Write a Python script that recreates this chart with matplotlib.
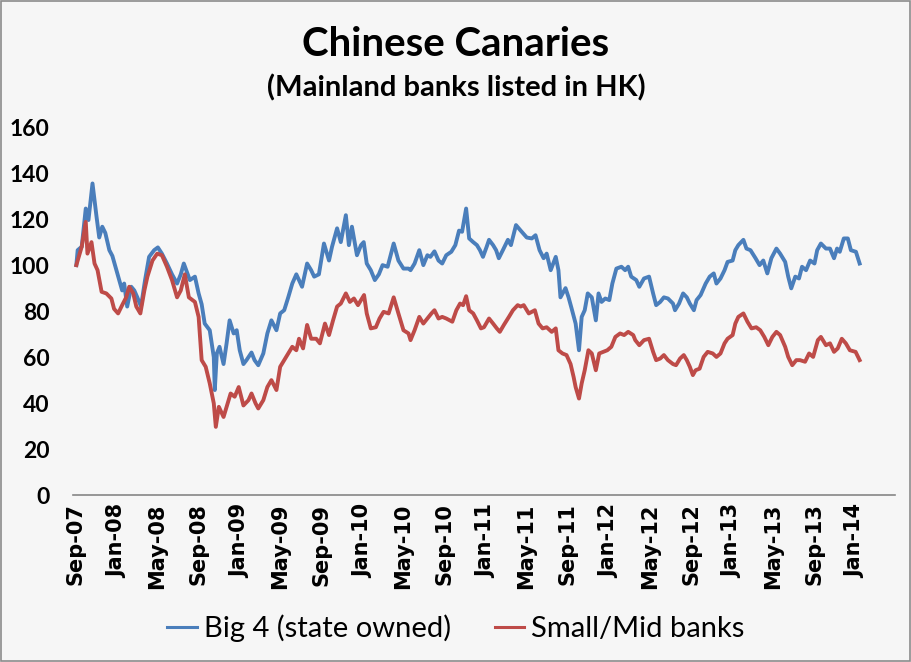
import matplotlib
matplotlib.use('Agg')
import matplotlib.pyplot as plt
import matplotlib.dates as mdates
import pandas as pd
from matplotlib.patches import Rectangle

# Big 4 (state owned) index
blue_dates = ['2007-09-03', '2007-09-07', '2007-09-19', '2007-10-01', '2007-10-09', '2007-10-21', '2007-11-02',
              '2007-11-10', '2007-11-19', '2007-11-28', '2007-12-10', '2007-12-19', '2007-12-31', '2008-01-08',
              '2008-01-17', '2008-01-23', '2008-02-01', '2008-02-13', '2008-02-22', '2008-03-02', '2008-03-13',
              '2008-03-25', '2008-04-06', '2008-04-21', '2008-05-02', '2008-05-14', '2008-05-29', '2008-06-13',
              '2008-06-28', '2008-07-09', '2008-07-18', '2008-08-05', '2008-08-20', '2008-08-31', '2008-09-09',
              '2008-09-18', '2008-10-03', '2008-10-15', '2008-10-18', '2008-10-24', '2008-11-01', '2008-11-13',
              '2008-11-22', '2008-12-01', '2008-12-13', '2008-12-22', '2008-12-31', '2009-01-11', '2009-01-20',
              '2009-02-04', '2009-02-13', '2009-02-24', '2009-03-11', '2009-03-23', '2009-04-04', '2009-04-19',
              '2009-04-30', '2009-05-12', '2009-05-24', '2009-06-05', '2009-06-17', '2009-07-04', '2009-07-19',
              '2009-07-31', '2009-08-09', '2009-08-23', '2009-09-07', '2009-09-22', '2009-10-01', '2009-10-16',
              '2009-10-27', '2009-11-11', '2009-11-20', '2009-11-29', '2009-12-14', '2009-12-26', '2010-01-03',
              '2010-01-12', '2010-01-24', '2010-02-05', '2010-02-17', '2010-02-28', '2010-03-15', '2010-04-02',
              '2010-04-16', '2010-05-01', '2010-05-16', '2010-05-22', '2010-06-03', '2010-06-17', '2010-06-29',
              '2010-07-11', '2010-07-20', '2010-08-01', '2010-08-13', '2010-08-24', '2010-09-05', '2010-09-20',
              '2010-10-02', '2010-10-13', '2010-10-22', '2010-11-03', '2010-11-12', '2010-11-24', '2010-12-05',
              '2010-12-14', '2010-12-23', '2011-01-03', '2011-01-10', '2011-01-22', '2011-01-31', '2011-02-08',
              '2011-02-20', '2011-03-07', '2011-03-16', '2011-03-31', '2011-04-14', '2011-05-02', '2011-05-17',
              '2011-05-28', '2011-06-09', '2011-06-21', '2011-06-30', '2011-07-12', '2011-07-27', '2011-08-04',
              '2011-08-10', '2011-08-25', '2011-09-03', '2011-09-12', '2011-09-24', '2011-10-04', '2011-10-12',
              '2011-10-21', '2011-10-30', '2011-11-11', '2011-11-23', '2011-12-01', '2011-12-10', '2011-12-21',
              '2012-01-02', '2012-01-11', '2012-01-23', '2012-02-07', '2012-02-18', '2012-02-27', '2012-03-07',
              '2012-03-22', '2012-03-31', '2012-04-14', '2012-04-29', '2012-05-11', '2012-05-20', '2012-06-01',
              '2012-06-12', '2012-06-24', '2012-07-09', '2012-07-15', '2012-07-27', '2012-08-08', '2012-08-19',
              '2012-08-28', '2012-09-09', '2012-09-17', '2012-09-29', '2012-10-14', '2012-10-26', '2012-11-07',
              '2012-11-15', '2012-11-27', '2012-12-09', '2012-12-18', '2013-01-02', '2013-01-10', '2013-01-19',
              '2013-02-03', '2013-02-12', '2013-02-24', '2013-03-11', '2013-03-23', '2013-04-03', '2013-04-15',
              '2013-04-27', '2013-05-12', '2013-05-23', '2013-06-07', '2013-06-16', '2013-06-25', '2013-07-07',
              '2013-07-18', '2013-07-27', '2013-08-08', '2013-08-20', '2013-09-02', '2013-09-10', '2013-09-21',
              '2013-10-06', '2013-10-18', '2013-10-30', '2013-11-08', '2013-11-16', '2013-11-28', '2013-12-10',
              '2013-12-19', '2014-01-03', '2014-01-14']
blue_vals = [100, 106.5, 108, 124.6, 119.6, 135.5, 121,
             112, 116.7, 114, 106.5, 104, 97.8, 93.5,
             89, 92, 82, 90.6, 89, 86, 82,
             93.5, 103.6, 106.5, 107.7, 105, 100.7, 96,
             92, 96, 100.7, 93.5, 95, 87.7, 83,
             74.6, 71.7, 60, 45.7, 61.6, 64.5, 57,
             66, 76, 70.3, 71.7, 63, 57, 58.7,
             62, 58.7, 56.5, 61.6, 70.3, 76, 71.7,
             79, 80.4, 86, 92, 96, 90.6, 100.7,
             97.8, 95, 96, 109.4, 102, 108, 116,
             110, 121.7, 108.7, 116.7, 104.3, 108.7, 110,
             100.7, 97.8, 93.5, 96, 100, 99.3, 109.4,
             102, 98.5, 98.5, 97.8, 100.7, 106.5, 100,
             104.3, 103.6, 106, 102, 100.7, 104.3, 105.8,
             108.7, 115, 114.5, 124.6, 111.6, 110, 108.7,
             106.5, 103.6, 108, 111, 108.7, 106.5, 103,
             106.5, 111, 108.7, 117.4, 115, 112, 111.6,
             113, 106.5, 103, 105, 97.8, 103.6, 97.8,
             86, 90, 86, 81.2, 74.6, 63, 77.5,
             80.4, 87.7, 86, 76, 87.7, 84, 85.5,
             84.8, 92, 98.5, 99.3, 97.8, 99.3, 95,
             93.5, 90.6, 94.2, 95, 87.7, 82.6, 84,
             86, 85.5, 83.3, 80.4, 83.3, 87.7, 86,
             83.3, 80.4, 84.8, 87, 92, 95, 96.4,
             92, 94.2, 97.8, 101.4, 102, 106.5, 108.7,
             111, 107.2, 106.5, 103, 100, 102, 96.4,
             103, 107.2, 105, 101.4, 95, 89.9, 95,
             94.2, 99.3, 97.8, 102, 100.7, 106.5, 109.4,
             107.2, 107.2, 103, 107.2, 105.8, 111.6, 111.6,
             106.5, 105.8, 100.7]

# Small/Mid banks index
red_dates = ['2007-09-03', '2007-09-07', '2007-09-19', '2007-10-01', '2007-10-06', '2007-10-18', '2007-10-27',
             '2007-11-05', '2007-11-17', '2007-12-01', '2007-12-16', '2007-12-24', '2008-01-05', '2008-01-17',
             '2008-01-29', '2008-02-07', '2008-02-19', '2008-02-28', '2008-03-11', '2008-03-23', '2008-04-01',
             '2008-04-16', '2008-04-30', '2008-05-14', '2008-05-29', '2008-06-13', '2008-06-28', '2008-07-09',
             '2008-07-21', '2008-08-02', '2008-08-20', '2008-08-31', '2008-09-09', '2008-09-21', '2008-10-03',
             '2008-10-15', '2008-10-21', '2008-10-30', '2008-11-13', '2008-11-22', '2008-12-04', '2008-12-16',
             '2008-12-28', '2009-01-11', '2009-01-26', '2009-02-04', '2009-02-16', '2009-02-24', '2009-03-11',
             '2009-03-23', '2009-04-04', '2009-04-19', '2009-04-30', '2009-05-12', '2009-05-24', '2009-06-05',
             '2009-06-17', '2009-06-25', '2009-07-07', '2009-07-19', '2009-07-31', '2009-08-15', '2009-08-26',
             '2009-09-10', '2009-09-22', '2009-10-04', '2009-10-16', '2009-10-27', '2009-11-11', '2009-11-23',
             '2009-12-05', '2009-12-17', '2010-01-04', '2010-01-12', '2010-01-24', '2010-02-08', '2010-02-19',
             '2010-03-03', '2010-03-18', '2010-04-02', '2010-04-16', '2010-05-01', '2010-05-16', '2010-05-22',
             '2010-06-03', '2010-06-17', '2010-06-29', '2010-07-11', '2010-07-23', '2010-08-01', '2010-08-13',
             '2010-08-24', '2010-09-05', '2010-09-23', '2010-10-05', '2010-10-16', '2010-10-25', '2010-11-03',
             '2010-11-12', '2010-11-24', '2010-12-05', '2010-12-17', '2010-12-26', '2011-01-10', '2011-01-22',
             '2011-02-02', '2011-02-11', '2011-02-23', '2011-03-10', '2011-03-22', '2011-04-05', '2011-04-14',
             '2011-04-23', '2011-05-08', '2011-05-26', '2011-06-06', '2011-06-18', '2011-06-30', '2011-07-15',
             '2011-07-27', '2011-08-04', '2011-08-16', '2011-08-28', '2011-09-09', '2011-09-18', '2011-09-24',
             '2011-10-04', '2011-10-12', '2011-10-21', '2011-11-01', '2011-11-11', '2011-11-23', '2011-12-03',
             '2011-12-15', '2011-12-27', '2012-01-08', '2012-01-20', '2012-02-03', '2012-02-15', '2012-02-27',
             '2012-03-13', '2012-03-19', '2012-03-31', '2012-04-14', '2012-04-29', '2012-05-11', '2012-05-20',
             '2012-06-01', '2012-06-12', '2012-06-24', '2012-07-09', '2012-07-18', '2012-07-30', '2012-08-10',
             '2012-08-19', '2012-08-28', '2012-09-06', '2012-09-14', '2012-09-26', '2012-10-08', '2012-10-20',
             '2012-11-04', '2012-11-15', '2012-11-27', '2012-12-09', '2012-12-18', '2013-01-02', '2013-01-10',
             '2013-01-19', '2013-02-03', '2013-02-15', '2013-02-27', '2013-03-13', '2013-03-25', '2013-04-06',
             '2013-04-18', '2013-04-30', '2013-05-12', '2013-05-23', '2013-06-07', '2013-06-16', '2013-06-28',
             '2013-07-10', '2013-07-21', '2013-08-05', '2013-08-17', '2013-08-29', '2013-09-12', '2013-09-21',
             '2013-10-06', '2013-10-18', '2013-10-30', '2013-11-10', '2013-11-22', '2013-12-04', '2013-12-16',
             '2014-01-02', '2014-01-14']
red_vals = [100, 102, 108, 118.8, 105, 110, 100.7,
            97.8, 88.4, 87.7, 85.5, 81, 79, 82.6,
            86, 90.6, 87.7, 82, 79, 89, 95,
            102, 105, 104.3, 99.3, 93.5, 86, 89,
            96, 86, 84, 77.5, 58.7, 55.8, 48.6,
            39.9, 29.7, 38.4, 34, 38.4, 44.2, 42.8,
            47, 39, 41.3, 44.2, 39.9, 37.7, 41.3,
            47, 50, 45.7, 55.8, 58.7, 61.6, 64.5,
            63, 68, 63.8, 74, 68, 68, 66,
            74.6, 69.6, 76, 82, 83.3, 87.7, 84,
            85.5, 82.6, 87, 79, 72.5, 73, 76.8,
            79.7, 79, 86, 79, 71.7, 70.3, 67.4,
            71.7, 77.5, 74.6, 76.8, 79, 80.4, 76.8,
            77.5, 76.8, 75.4, 80.4, 83.3, 82.6, 86.5,
            80.4, 79, 76, 72.5, 73, 76.8, 74.6,
            72.5, 71, 74, 77.5, 80.4, 82.6, 82,
            82.6, 79, 80.4, 74.6, 72.5, 73, 71,
            72.5, 63, 61.6, 60.9, 57, 51.4, 47,
            42, 48.6, 54.3, 63, 61.6, 54.3, 61.6,
            62.3, 63, 64.5, 68.8, 70.3, 69.6, 71,
            69.6, 67.4, 65.2, 67.4, 68, 62.3, 58.7,
            59.4, 60.9, 58.7, 57, 56.5, 59.4, 60.9,
            58.7, 55.8, 52.2, 54.3, 55, 60.1, 62.3,
            61.6, 60.1, 61.6, 66, 68, 69.6, 74.6,
            77.5, 79, 75.4, 72.5, 73, 71.7, 68.8,
            65.2, 68.8, 71, 69.6, 64.5, 60.1, 56.5,
            58.7, 58.7, 58, 61.6, 60.1, 67.4, 68.8,
            65.2, 66, 62.3, 63.8, 68, 66, 63,
            62.3, 58.7]

title = 'Chinese Canaries'
subtitle = '(Mainland banks listed in HK)'
labels = ['Big 4 (state owned)', 'Small/Mid banks']

bg = '#f6f6f6'
fig = plt.figure(figsize=(9.12, 6.62), dpi=100, facecolor=bg)
ax = fig.add_axes([0.080, 0.252, 0.901, 0.556])
ax.set_facecolor(bg)

ax.plot(pd.to_datetime(blue_dates), blue_vals, color='#4a7ebb', lw=2.8, label=labels[0])
ax.plot(pd.to_datetime(red_dates), red_vals, color='#be4b48', lw=2.8, label=labels[1])

ax.set_ylim(0, 160)
ax.set_yticks(range(0, 161, 20))
ax.set_xlim(pd.Timestamp('2007-08-24'), pd.Timestamp('2014-04-28'))
ax.xaxis.set_major_locator(mdates.MonthLocator(bymonth=[1, 5, 9]))
ax.xaxis.set_major_formatter(mdates.DateFormatter('%b-%y'))

for s in ['top', 'right', 'left']:
    ax.spines[s].set_visible(False)
ax.spines['bottom'].set_color('#868686')
ax.spines['bottom'].set_linewidth(1.2)

ax.tick_params(axis='y', length=0, pad=17)
ax.tick_params(axis='x', length=0, pad=6)
for t in ax.get_yticklabels():
    t.set_fontfamily('Lato')
    t.set_fontweight('bold')
    t.set_fontsize(16.5)
for t in ax.get_xticklabels():
    t.set_fontfamily('DejaVu Sans')
    t.set_fontweight('bold')
    t.set_fontsize(15)
    t.set_rotation(90)

fig.text(0.5, 1 - 45 / 662, title, ha='center', va='center',
         fontsize=29, fontweight='bold', family='Lato')
fig.text(0.5, 1 - 88 / 662, subtitle, ha='center', va='center',
         fontsize=21, fontweight='bold', family='Lato')

leg = fig.legend(loc='center', bbox_to_anchor=(0.5, 1 - 628 / 662), ncol=2, frameon=False,
                 handlelength=1.0, handletextpad=0.25, columnspacing=1.5,
                 prop={'family': 'Lato', 'size': 21})
for ln in leg.get_lines():
    ln.set_linewidth(2.2)

fig.patches.append(Rectangle((0.001, 0.001), 0.997, 0.997, transform=fig.transFigure,
                             fill=False, edgecolor='#8c8c8c', lw=1.2))

fig.savefig('out.png', dpi=100, facecolor=bg)
